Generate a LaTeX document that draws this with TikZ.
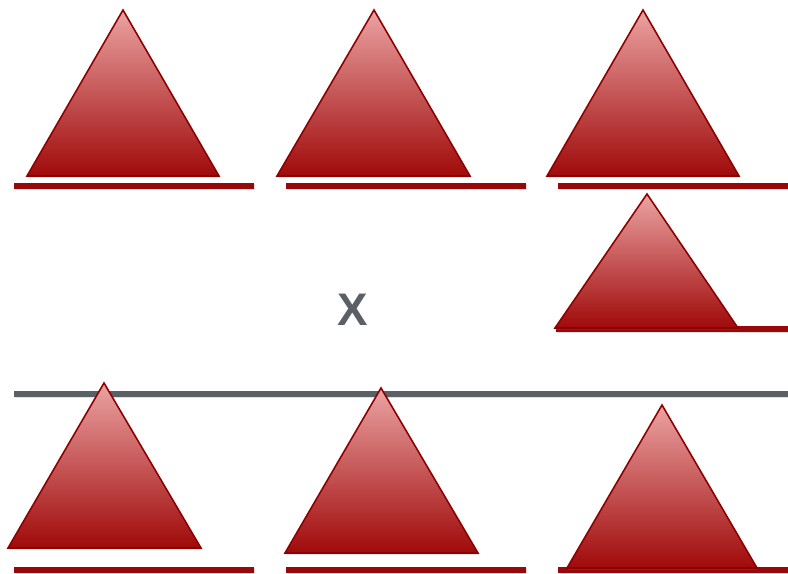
\documentclass[tikz,border=0pt]{standalone}
\usepackage{fontspec}
\setmainfont{Liberation Sans}
\usetikzlibrary{shadows}
\definecolor{tritop}{HTML}{EBA3A3}
\definecolor{tribot}{HTML}{A00A0A}
\definecolor{triedge}{HTML}{8E0000}
\definecolor{barred}{HTML}{980808}
\definecolor{bargray}{HTML}{5B6066}
\begin{document}
\begin{tikzpicture}[x=0.02cm, y=-0.02cm,
  tri/.style={draw=triedge, line width=0.9pt, line join=miter, top color=tritop, bottom color=tribot,
    drop shadow={opacity=0.18, shadow xshift=0.5pt, shadow yshift=-1pt}},
  redbar/.style={barred, line width=3pt,
    preaction={draw, black!12, line width=3.6pt, transform canvas={xshift=0.4pt, yshift=-0.7pt}}},
  graybar/.style={bargray, line width=3pt,
    preaction={draw, black!12, line width=3.6pt, transform canvas={xshift=0.4pt, yshift=-0.7pt}}}]
  \useasboundingbox (0,0) rectangle (788,574);
  % top row
  \draw[redbar] (14,186) -- (254,186);
  \draw[redbar] (286,186) -- (526,186);
  \draw[redbar] (558,186) -- (788,186);
  \draw[tri] (123,10) -- (219,176) -- (27,176) -- cycle;
  \draw[tri] (374,10) -- (470,176) -- (277,176) -- cycle;
  \draw[tri] (643,10) -- (739,176) -- (547,176) -- cycle;
  % multiplier
  \draw[redbar] (556,329) -- (788,329);
  \draw[tri] (647,194) -- (738,328) -- (555,328) -- cycle;
  \node[font=\fontsize{26}{30}\selectfont\bfseries, bargray] (times) at (353,310) {X};
  % result
  \draw[graybar] (14,394) -- (788,394);
  \draw[redbar] (14,570) -- (254,570);
  \draw[redbar] (286,570) -- (526,570);
  \draw[redbar] (558,570) -- (788,570);
  \draw[tri] (104,383) -- (201,548) -- (8,548) -- cycle;
  \draw[tri] (381,388) -- (478,553) -- (285,553) -- cycle;
  \draw[tri] (662,405) -- (757,568) -- (567,568) -- cycle;
\end{tikzpicture}
\end{document}
